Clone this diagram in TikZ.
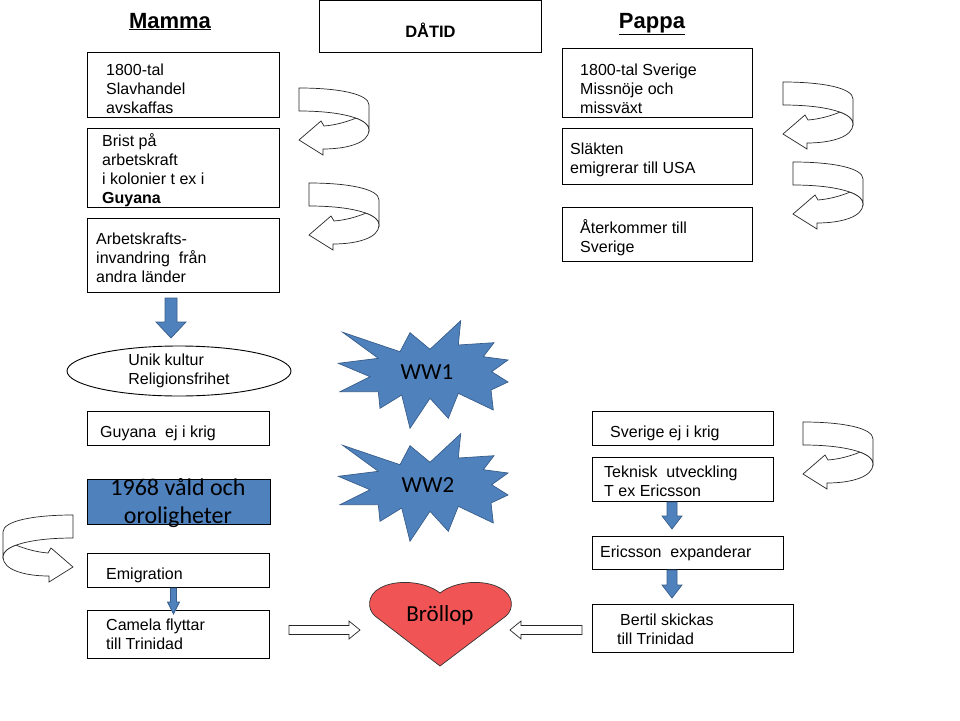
\documentclass[tikz,border=0pt]{standalone}
\usepackage{fontspec}
\setmainfont{Liberation Sans}
\newfontfamily\calibri{Carlito}
\usetikzlibrary{shapes.geometric}
\definecolor{ppblue}{RGB}{79,129,189}
\definecolor{ppedge}{RGB}{56,93,138}
\definecolor{heartred}{RGB}{240,84,84}
\tikzset{
  frame/.style 2 args={draw, line width=.9pt, anchor=north west, inner sep=0pt,
    minimum width=#1, minimum height=#2},
  boxtext/.style={anchor=west, align=left, inner sep=0pt},
  curlline/.style={draw=black!85, fill=white, line width=.7pt},
  bluearrow/.style={draw=ppedge, fill=ppblue, line width=.7pt},
  hollowarrow/.style={draw=black!85, fill=white, line width=.7pt},
  pics/curl/.style={code={
    \draw[curlline] (0,0) .. controls (40,0) and (70,6) .. (70,17) -- (70,42)
      .. controls (70,30) and (40,23) .. (0,23) -- cycle;
    \draw[curlline] (56.88,30.13) .. controls (65.2,33.2) and (70,37.2) .. (70,42)
      .. controls (70,55) and (48,61) .. (24,61) -- (24,67) -- (0,52) -- (22,33)
      -- (25,38) .. controls (38,37) and (50,33) .. (56.88,30.13) -- cycle;
  }},
  pics/barrow/.style n args={5}{code={
    \draw[#1] (0,-#2) -- (#4-#5,-#2) -- (#4-#5,-#3) -- (#4,0)
      -- (#4-#5,#3) -- (#4-#5,#2) -- (0,#2) -- cycle;
  }},
  pics/blast/.style={code={
    \draw[bluearrow] (-80.3,-42.7) -- (-23,-23.3) -- (-13,-42.3) -- (7,-25.7)
      -- (37.7,-54.3) -- (35.3,-30) -- (71,-32.3) -- (60.3,-18.3) -- (85,-15)
      -- (68.7,-3.3) -- (85,7) -- (68,15) -- (70.3,35) -- (35.3,18.3)
      -- (25.3,43.3) -- (7,23.3) -- (-13,53.3) -- (-21.3,20) -- (-43,33.3)
      -- (-44.7,16.7) -- (-83,16.7) -- (-53,1.7) -- (-84.7,-11.7)
      -- (-44.7,-16.7) -- cycle;
  }}
}
\begin{document}
\begin{tikzpicture}[x=1pt,y=-1pt,font=\fontsize{16}{19}\selectfont]
  \useasboundingbox (0,0) rectangle (960,720);
  % headings
  \node[anchor=base,font=\fontsize{22}{24}\selectfont\bfseries] (mamma) at (170,28) {\underline{Mamma}};
  \node[anchor=base,font=\fontsize{22}{24}\selectfont\bfseries] (pappa) at (652,28) {\underline{Pappa}};
  \node[frame={222pt}{52pt}] (datid) at (319,0) {};
  \node[font=\fontsize{16.5}{19}\selectfont\bfseries] (datidt) at ([yshift=-4pt]datid.center) {DÅTID};
  % boxes Mamma
  \node[frame={192pt}{65pt}] (m1) at (87,52) {};
  \node[boxtext] (m1t) at ([xshift=19pt,yshift=-3.5pt]m1.west) {1800-tal\\Slavhandel\\avskaffas};
  \node[frame={192pt}{79pt}] (m2) at (87,128) {};
  \node[boxtext] (m2t) at ([xshift=15pt,yshift=-2pt]m2.west) {Brist på\\arbetskraft\\i kolonier t ex i\\\textbf{Guyana}};
  \node[frame={192pt}{74pt}] (m3) at (87,218) {};
  \node[boxtext] (m3t) at ([xshift=9pt,yshift=-2.5pt]m3.west) {Arbetskrafts-\\invandring\ \ från\\andra länder};
  \node[draw,line width=.9pt,ellipse,minimum width=224pt,minimum height=50pt,inner sep=0pt,align=left] (mk) at (179,371) {Unik kultur\\Religionsfrihet};
  \node[frame={182pt}{34pt}] (m4) at (87,411) {};
  \node[boxtext] (m4t) at ([xshift=13pt,yshift=-5pt]m4.west) {Guyana\ \ ej i krig};
  \node[frame={183pt}{45pt},fill=ppblue] (m5) at (87,479) {};
  \node[align=center,font=\calibri\fontsize{24}{28}\selectfont] (m5t) at (178,503) {1968 våld och\\oroligheter};
  \node[frame={182pt}{34pt}] (m6) at (87,553) {};
  \node[boxtext] (m6t) at ([xshift=19pt,yshift=-5pt]m6.west) {Emigration};
  \node[frame={182pt}{48pt}] (m7) at (87,610) {};
  \node[boxtext] (m7t) at ([xshift=19pt]m7.west) {Camela flyttar\\till Trinidad};
  % boxes Pappa
  \node[frame={190pt}{69pt}] (p1) at (562,48) {};
  \node[boxtext] (p1t) at ([xshift=18pt,yshift=-5.5pt]p1.west) {1800-tal Sverige\\Missnöje och\\missväxt};
  \node[frame={190pt}{56pt}] (p2) at (562,128) {};
  \node[boxtext] (p2t) at ([xshift=8pt,yshift=-3pt]p2.west) {Släkten\\emigrerar till USA};
  \node[frame={190pt}{54pt}] (p3) at (562,207) {};
  \node[boxtext] (p3t) at ([xshift=18pt,yshift=-3pt]p3.west) {Återkommer till\\Sverige};
  \node[frame={181pt}{34pt}] (p4) at (592,411) {};
  \node[boxtext] (p4t) at ([xshift=18pt,yshift=-5pt]p4.west) {Sverige ej i krig};
  \node[frame={181pt}{44pt}] (p5) at (592,457) {};
  \node[boxtext] (p5t) at ([xshift=12pt,yshift=-1.5pt]p5.west) {Teknisk\ \ utveckling\\T ex Ericsson};
  \node[frame={191pt}{33pt}] (p6) at (592,536) {};
  \node[boxtext] (p6t) at ([xshift=8pt]p6.west) {Ericsson\ \ expanderar};
  \node[frame={201pt}{48pt}] (p7) at (592,604) {};
  \node[boxtext] (p7t) at ([xshift=25pt,yshift=-1pt]p7.west) {\hspace*{3pt}Bertil skickas\\till Trinidad};
  % curled arrows
  \pic at (299,88) {curl};
  \pic at (309,183) {curl};
  \pic at (783,82) {curl};
  \pic at (793,162) {curl};
  \pic at (803,422) {curl};
  \pic[xscale=-1] at (73,515) {curl};
  % block arrows
  \pic[rotate=-90] at (171,298) {barrow={bluearrow}{6}{15}{40}{16}};
  \pic[rotate=-90] at (173.5,588) {barrow={bluearrow}{3}{6}{26}{12}};
  \pic[rotate=-90] at (672,502) {barrow={bluearrow}{5}{10}{27}{13}};
  \pic[rotate=-90] at (672,570) {barrow={bluearrow}{5}{10}{28}{13}};
  \pic at (289,630) {barrow={hollowarrow}{4.5}{9}{71}{11}};
  \pic[rotate=180] at (582,630) {barrow={hollowarrow}{4.5}{9}{72}{11}};
  % stars
  \pic at (423,375) {blast};
  \pic at (423,488) {blast};
  \node[font=\calibri\fontsize{23}{26}\selectfont] (ww1) at (427,372) {WW1};
  \node[font=\calibri\fontsize{23}{26}\selectfont] (ww2) at (428,485) {WW2};
  % heart
  \draw[draw=black!80,fill=heartred,line width=.7pt] (440,593)
    .. controls (425,581) and (396,579) .. (380,588)
    .. controls (367,595) and (367,609) .. (375,616) -- (440,666) -- (506,616)
    .. controls (514,609) and (514,595) .. (500,588)
    .. controls (484,579) and (455,581) .. (440,593) -- cycle;
  \node[font=\calibri\fontsize{23}{26}\selectfont] (wedding) at (440,615) {Bröllop};
\end{tikzpicture}
\end{document}
